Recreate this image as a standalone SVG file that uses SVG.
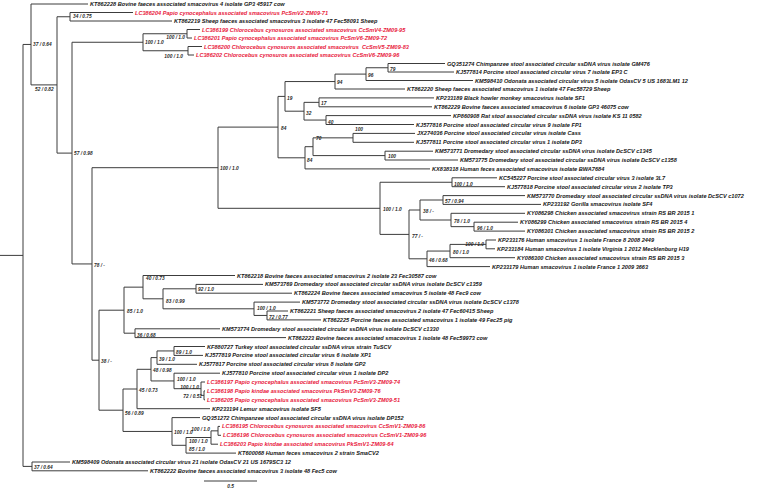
<svg xmlns="http://www.w3.org/2000/svg" width="758" height="488" viewBox="0 0 758 488">
<style>
.br{stroke:#3c3c3c;stroke-width:1;fill:none}
text{font-family:"Liberation Sans",Arial,sans-serif;font-weight:bold;font-style:italic}
.lf{font-size:5.6px;fill:#161616}
.rd{fill:#e8193c}
.sp{font-size:4.8px;fill:#262626}
.e{text-anchor:end}
</style>
<rect width="758" height="488" fill="#fff"/>
<g id="connectors" class="br">
<path d="M0 255.4H23M23 44.45V466.4M23 44.45H31M31 4V84.9M31 4H88M31 84.9H57M57 16.75V153.1M57 16.75H70M70 12.5V21M70 12.5H133M70 21H172"/>
<path d="M57 153.1H72M72 42.25V263.95M72 42.25H143M143 33.75V50.75M143 33.75H187M187 29.5V38M187 29.5H200M187 38H192M143 50.75H188M188 46.5V55M188 46.5H202M188 55H194"/>
<path d="M72 263.95H92M92 167.7V360.2M92 167.7H218M218 127.1V208.3M218 127.1H278M278 96.4V157.8M278 96.4H285M285 81.55V111.2M285 81.55H335M335 74.1V89M335 74.1H366M366 67.75V80.5M366 67.75H388M388 63.5V72M388 63.5H445M388 72H454M366 80.5H473M335 89H405"/>
<path d="M285 111.2H304M304 102.35V120.05M304 102.35H319M319 97.9V106.8M319 97.9H434M319 106.8H432M304 120.05H326M326 115.6V124.5M326 115.6H451M326 124.5H414"/>
<path d="M278 157.8H305M305 146.7V168.9M305 146.7H313M313 137.85V155.6M313 137.85H353M353 133.4V142.3M353 133.4H415M353 142.3H414M313 155.6H385M385 151.2V160M385 151.2H433M385 160H458M305 168.9H430"/>
<path d="M218 208.3H380M380 182.25V234.4M380 182.25H452M452 177.8V186.7M452 177.8H497M452 186.7H505M380 234.4H409M409 210V258.8M409 210H420M420 200V220M420 200H443M443 195.6V204.4M443 195.6H525M443 204.4H541M420 220H451M451 213.3V226.65M451 213.3H525M451 226.65H474M474 222.2V231.1M474 222.2H518M474 231.1H525"/>
<path d="M409 258.8H427M427 251.05V266.6M427 251.05H450M450 244.4V257.7M450 244.4H486M486 240V248.8M486 240H496M486 248.8H495M450 257.7H515M427 266.6H490"/>
<path d="M92 360.2H99M99 310.2V410.2M99 310.2H124M124 287.15V333.2M124 287.15H143M143 275.5V298.8M143 275.5H235M143 298.8H163M163 288.8V308.8M163 288.8H196M196 284.4V293.2M196 284.4H263M196 293.2H292M163 308.8H254M254 302.1V315.45M254 302.1H300M254 315.45H267M267 311V319.9M267 311H288M267 319.9H321M124 333.2H135M135 328.8V337.6M135 328.8H220M135 337.6H286"/>
<path d="M99 410.2H123M123 389V431.45M123 389H137M137 369.3V408.7M137 369.3H151M151 357.6V380.95M151 357.6H157M157 350.95V364.3M157 350.95H174M174 346.5V355.4M174 346.5H205M174 355.4H203M157 364.3H197M151 380.95H174M174 373.2V388.7M174 373.2H220M174 388.7H201M201 382V395.35M201 382H205M201 395.35H204M204 390.9V399.8M204 390.9H205M204 399.8H205M137 408.7H210"/>
<path d="M123 431.45H172M172 417.6V445.3M172 417.6H200M172 445.3H186M186 437.5V453.1M186 437.5H211M211 430.85V444.2M211 430.85H218M218 426.4V435.3M218 426.4H220M218 435.3H221M211 444.2H218M186 453.1H236"/>
<path d="M23 466.4H32M32 462V470.8M32 462H70M32 470.8H148"/>
<path d="M204 481H257"/>
</g>
<g id="leaves" class="lf">
<g id="KT862228"><text x="90" y="6">KT862228 Bovine faeces associated smacovirus 4 isolate GP3 45917 cow</text></g>
<g id="LC386204"><text class="rd" x="135" y="14.5">LC386204 Papio cynocephalus associated smacovirus PcSmV2-ZM09-71</text></g>
<g id="KT862219"><text x="174" y="23">KT862219 Sheep faeces associated smacovirus 3 isolate 47 Fec58091 Sheep</text></g>
<g id="LC386199"><text class="rd" x="202" y="31.5">LC386199 Chlorocebus cynosuros associated smacovirus CcSmV4-ZM09-95</text></g>
<g id="LC386201"><text class="rd" x="194" y="40">LC386201 Papio cynocephalus associated smacovirus PcSmV6-ZM09-72</text></g>
<g id="LC386200"><text class="rd" x="204" y="48.5" xml:space="preserve">LC386200 Chlorocebus cynosuros associated smacovirus  CcSmV5-ZM09-83</text></g>
<g id="LC386202"><text class="rd" x="196" y="57">LC386202 Chlorocebus cynosuros associated smacovirus CcSmV6-ZM09-96</text></g>
<g id="GQ351274"><text x="447" y="65.5">GQ351274 Chimpanzee stool associated circular ssDNA virus isolate GM476</text></g>
<g id="KJ577814"><text x="456" y="74">KJ577814 Porcine stool associated circular virus 7 isolate EP3 C</text></g>
<g id="KM598410"><text x="475" y="82.5">KM598410 Odonata associated circular virus 5 isolate OdasCV 5 US 1683LM1 12</text></g>
<g id="KT862220"><text x="407" y="91">KT862220 Sheep faeces associated smacovirus 1 isolate 47 Fec58729 Sheep</text></g>
<g id="KP233189"><text x="436" y="99.9">KP233189 Black howler monkey smacovirus isolate SF1</text></g>
<g id="KT862229"><text x="434" y="108.8">KT862229 Bovine faeces associated smacovirus 6 isolate GP3 46075 cow</text></g>
<g id="KP860908"><text x="453" y="117.6">KP860908 Rat stool associated circular ssDNA virus isolate KS 11 0582</text></g>
<g id="KJ577816"><text x="416" y="126.5">KJ577816 Porcine stool associated circular virus 9 isolate FP1</text></g>
<g id="JX274036"><text x="417" y="135.4">JX274036 Porcine stool associated circular virus isolate Cass</text></g>
<g id="KJ577811"><text x="416" y="144.3">KJ577811 Porcine stool associated circular virus 1 isolate DP3</text></g>
<g id="KM573771"><text x="435" y="153.2">KM573771 Dromedary stool associated circular ssDNA virus isolate DcSCV c1345</text></g>
<g id="KM573775"><text x="460" y="162">KM573775 Dromedary stool associated circular ssDNA virus isolate DcSCV c1358</text></g>
<g id="KX838318"><text x="432" y="170.9">KX838318 Human feces associated smacovirus isolate BWA7684</text></g>
<g id="KC545227"><text x="499" y="179.8">KC545227 Porcine stool associated circular virus 3 isolate 3L7</text></g>
<g id="KJ577818"><text x="507" y="188.7">KJ577818 Porcine stool associated circular virus 2 isolate TP3</text></g>
<g id="KM573770"><text x="527" y="197.6">KM573770 Dromedary stool associated circular ssDNA virus isolate DcSCV c1072</text></g>
<g id="KP233192"><text x="543" y="206.4">KP233192 Gorilla smacovirus isolate SF4</text></g>
<g id="KY086298"><text x="527" y="215.3">KY086298 Chicken associated smacovirus strain RS BR 2015 1</text></g>
<g id="KY086299"><text x="520" y="224.2">KY086299 Chicken associated smacovirus strain RS BR 2015 4</text></g>
<g id="KY086301"><text x="527" y="233.1">KY086301 Chicken associated smacovirus strain RS BR 2015 2</text></g>
<g id="KP233176"><text x="498" y="242">KP233176 Human smacovirus 1 isolate France 8 2008 2449</text></g>
<g id="KP233184"><text x="497" y="250.8">KP233184 Human smacovirus 1 isolate Virginia 1 2012 Mecklenburg H19</text></g>
<g id="KY086300"><text x="517" y="259.7">KY086300 Chicken associated smacovirus strain RS BR 2015 3</text></g>
<g id="KP233179"><text x="492" y="268.6">KP233179 Human smacovirus 1 isolate France 1 2009 3663</text></g>
<g id="KT862218"><text x="237" y="277.5">KT862218 Bovine faeces associated smacovirus 2 isolate 23 Fec30587 cow</text></g>
<g id="KM573769"><text x="265" y="286.4">KM573769 Dromedary stool associated circular ssDNA virus isolate DcSCV c1359</text></g>
<g id="KT862224"><text x="294" y="295.2">KT862224 Bovine faeces associated smacovirus 5 isolate 48 Fec9 cow</text></g>
<g id="KM573772"><text x="302" y="304.1">KM573772 Dromedary stool associated circular ssDNA virus isolate DcSCV c1378</text></g>
<g id="KT862221"><text x="290" y="313">KT862221 Sheep faeces associated smacovirus 2 isolate 47 Fec60415 Sheep</text></g>
<g id="KT862225"><text x="323" y="321.9">KT862225 Porcine faeces associated smacovirus 1 isolate 49 Fec25 pig</text></g>
<g id="KM573774"><text x="222" y="330.8">KM573774 Dromedary stool associated circular ssDNA virus isolate DcSCV c1330</text></g>
<g id="KT862223"><text x="288" y="339.6">KT862223 Bovine faeces associated smacovirus 1 isolate 48 Fec59973 cow</text></g>
<g id="KF880727"><text x="207" y="348.5">KF880727 Turkey stool associated circular ssDNA virus strain TuSCV</text></g>
<g id="KJ577819"><text x="205" y="357.4">KJ577819 Porcine stool associated circular virus 6 isolate XP1</text></g>
<g id="KJ577817"><text x="199" y="366.3">KJ577817 Porcine stool associated circular virus 8 isolate GP2</text></g>
<g id="KJ577810"><text x="222" y="375.2">KJ577810 Porcine stool associated circular virus 1 isolate DP2</text></g>
<g id="LC386197"><text class="rd" x="207" y="384">LC386197 Papio cynocephalus associated smacovirus PcSmV3-ZM09-74</text></g>
<g id="LC386198"><text class="rd" x="207" y="392.9">LC386198 Papio kindae associated smacovirus PkSmV3-ZM09-76</text></g>
<g id="LC386205"><text class="rd" x="207" y="401.8">LC386205 Papio cynocephalus associated smacovirus PcSmV3-ZM09-51</text></g>
<g id="KP233194"><text x="212" y="410.7">KP233194 Lemur smacovirus isolate SF5</text></g>
<g id="GQ351272"><text x="202" y="419.6">GQ351272 Chimpanzee stool associated circular ssDNA virus isolate DP152</text></g>
<g id="LC386195"><text class="rd" x="222" y="428.4">LC386195 Chlorocebus cynosuros associated smacovirus CcSmV1-ZM09-86</text></g>
<g id="LC386196"><text class="rd" x="223" y="437.3">LC386196 Chlorocebus cynosuros associated smacovirus CcSmV1-ZM09-96</text></g>
<g id="LC386203"><text class="rd" x="220" y="446.2">LC386203 Papio kindae associated smacovirus PkSmV1-ZM09-64</text></g>
<g id="KT600068"><text x="238" y="455.1">KT600068 Human feces smacovirus 2 strain SmaCV2</text></g>
<g id="KM598409"><text x="72" y="464">KM598409 Odonata associated circular virus 21 isolate OdasCV 21 US 1679SC3 12</text></g>
<g id="KT862222"><text x="150" y="472.8">KT862222 Bovine faeces associated smacovirus 3 isolate 48 Fec5 cow</text></g>
</g>
<g id="internal-nodes" class="sp">
<g id="n1"><text x="33" y="46">37 / 0.64</text></g>
<g id="n2"><text x="35" y="90.5">52 / 0.82</text></g>
<g id="n3"><text x="73" y="17.5">34 / 0.75</text></g>
<g id="n4"><text x="74" y="155">57 / 0.98</text></g>
<g id="n5"><text x="145" y="44">100 / 1.0</text></g>
<g id="n45"><text class="e" x="185" y="38.5">100 / 1.0</text></g>
<g id="n67"><text class="e" x="183" y="57.5">100 / 1.0</text></g>
<g id="n79"><text x="390" y="70.5">79</text></g>
<g id="n96"><text x="368" y="77">96</text></g>
<g id="n94"><text x="337" y="84">94</text></g>
<g id="n19"><text x="287" y="100">19</text></g>
<g id="n17"><text x="321" y="104.5">17</text></g>
<g id="n32"><text x="306" y="114.5">32</text></g>
<g id="n40b"><text x="328" y="123.5">40</text></g>
<g id="n84a"><text x="281" y="130">84</text></g>
<g id="n100a"><text x="355" y="131">100</text></g>
<g id="n70"><text x="316" y="140">70</text></g>
<g id="n100b"><text x="388" y="158">100</text></g>
<g id="n84b"><text x="307" y="161.5">84</text></g>
<g id="n7"><text x="220" y="170">100 / 1.0</text></g>
<g id="nbig2"><text x="383" y="211">100 / 1.0</text></g>
<g id="n14"><text x="454" y="185.5">100 / 1.0</text></g>
<g id="n18"><text x="445" y="203">57 / 0.94</text></g>
<g id="n16"><text x="423" y="213">38 / -</text></g>
<g id="n19b"><text x="454" y="223">78 / 1.0</text></g>
<g id="n20"><text x="477" y="230">96 / 1.0</text></g>
<g id="n15"><text x="412" y="238">77 / -</text></g>
<g id="n22"><text class="e" x="484" y="245.5">100 / 1.0</text></g>
<g id="n21"><text x="453" y="253.5">80 / 1.0</text></g>
<g id="n17b"><text x="429" y="261.5">46 / 0.68</text></g>
<g id="n6"><text x="94" y="267">78 / -</text></g>
<g id="n40"><text x="146" y="280">40 / 0.73</text></g>
<g id="n92"><text x="198" y="291">92 / 1.0</text></g>
<g id="n83"><text x="166" y="302.5">83 / 0.99</text></g>
<g id="n100c"><text x="257" y="310">100 / 1.0</text></g>
<g id="n85"><text x="127" y="313">85 / 1.0</text></g>
<g id="n72"><text x="269" y="318.5">72 / 0.77</text></g>
<g id="n36"><text x="137" y="336.5">36 / 0.68</text></g>
<g id="n89"><text x="176" y="354">89 / 1.0</text></g>
<g id="n39"><text x="159" y="361">39 / 1.0</text></g>
<g id="n38"><text x="101" y="363">38 / -</text></g>
<g id="n48"><text x="153" y="372">48 / 0.98</text></g>
<g id="n100f"><text x="177" y="381">100 / 1.0</text></g>
<g id="n100e"><text class="e" x="199" y="389">100 / 1.0</text></g>
<g id="n45b"><text x="139" y="392">45 / 0.73</text></g>
<g id="n72b"><text class="e" x="202" y="398">72 / 0.51</text></g>
<g id="n56"><text x="125" y="415">56 / 0.89</text></g>
<g id="n100h"><text class="e" x="210" y="431">100 / 1.0</text></g>
<g id="n100d"><text x="174" y="434">100 / 1.0</text></g>
<g id="n100g"><text x="189" y="442.5">100 / 1.0</text></g>
<g id="n85b"><text x="189" y="450.5">85 / 1.0</text></g>
<g id="nb"><text x="34" y="469">37 / 0.64</text></g>
</g>
<g id="scale-bar"><text class="sp" x="230.5" y="487.5" text-anchor="middle">0.5</text></g>
</svg>
